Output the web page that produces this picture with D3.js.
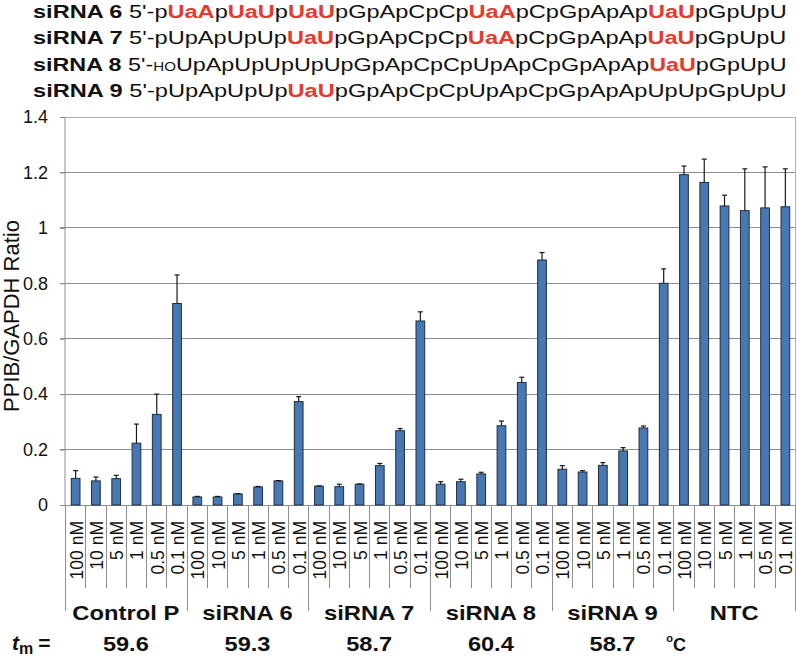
<!DOCTYPE html>
<html><head><meta charset="utf-8">
<script src="https://cdn.jsdelivr.net/npm/d3@7/dist/d3.min.js"></script>
<style>body{margin:0;background:#fff}svg{display:block}</style>
</head><body>
<svg id="c" width="797" height="658"></svg>
<script>
// ---------- data ----------
const groups = ["Control P","siRNA 6","siRNA 7","siRNA 8","siRNA 9","NTC"];
const concentrations = ["100 nM","10 nM","5 nM","1 nM","0.5 nM","0.1 nM"];
const meltingTemps = ["59.6","59.3","58.7","60.4","58.7",""];
const controlP = [0.096,0.087,0.095,0.223,0.327,0.727];
const sirna6   = [0.029,0.029,0.040,0.065,0.087,0.373];
const sirna7   = [0.068,0.066,0.075,0.142,0.268,0.664];
const sirna8   = [0.075,0.084,0.112,0.286,0.442,0.884];
const sirna9   = [0.129,0.119,0.143,0.195,0.278,0.800];
const ntc      = [1.192,1.164,1.079,1.062,1.072,1.076];
const controlPErr = [0.028,0.014,0.012,0.069,0.073,0.103];
const sirna6Err   = [0.002,0.002,0.001,0.002,0.001,0.018];
const sirna7Err   = [0.001,0.009,0.001,0.008,0.008,0.033];
const sirna8Err   = [0.009,0.009,0.006,0.017,0.019,0.027];
const sirna9Err   = [0.013,0.005,0.010,0.012,0.007,0.052];
const ntcErr      = [0.031,0.084,0.039,0.151,0.148,0.137];
const yTicks = [0,0.2,0.4,0.6,0.8,1,1.2,1.4];
const seqNames = ["siRNA 6","siRNA 7","siRNA 8","siRNA 9"];
// sequence segments: [text, style]  style: n=normal, r=red bold, s=small
const seqLines = [
  [["5'-p","n"],["UaA","r"],["p","n"],["UaU","r"],["p","n"],["UaU","r"],["pGpApCpCp","n"],["UaA","r"],["pCpGpApAp","n"],["UaU","r"],["pGpUpU","n"]],
  [["5'-pUpApUpUp","n"],["UaU","r"],["pGpApCpCp","n"],["UaA","r"],["pCpGpApAp","n"],["UaU","r"],["pGpUpU","n"]],
  [["5'-","n"],["HO","s"],["UpApUpUpUpUpGpApCpCpUpApCpGpApAp","n"],["UaU","r"],["pGpUpU","n"]],
  [["5'-pUpApUpUp","n"],["UaU","r"],["pGpApCpCpUpApCpGpApApUpUpGpUpU","n"]]
];

const valuesByGroup = [controlP,sirna6,sirna7,sirna8,sirna9,ntc];
const errByGroup = [controlPErr,sirna6Err,sirna7Err,sirna8Err,sirna9Err,ntcErr];
const rows = [];
groups.forEach((g,gi)=>concentrations.forEach((c,ci)=>rows.push({g,gi,c,ci,v:valuesByGroup[gi][ci],e:errByGroup[gi][ci],key:gi+"-"+ci})));

// ---------- layout ----------
const svg = d3.select("#c");
const L=65, R=795, T=117, B=505;
const FONT = "'Liberation Sans', Arial, sans-serif";
const x = d3.scaleBand().domain(rows.map(d=>d.key)).range([L,R]).paddingInner(0).paddingOuter(0);
const y = d3.scaleLinear().domain([0,1.4]).range([B,T]);
const bw = x.bandwidth();

// gridlines
svg.append("g").selectAll("line").data(yTicks).join("line")
  .attr("x1",L-5).attr("x2",R).attr("y1",d=>y(d)).attr("y2",d=>y(d))
  .attr("stroke",d=>d===1.4?"#b0b0b0":"#8e8e8e").attr("stroke-width",1).attr("shape-rendering","crispEdges");
// right border
svg.append("line").attr("x1",R).attr("x2",R).attr("y1",T).attr("y2",B)
  .attr("stroke","#b0b0b0").attr("shape-rendering","crispEdges");

// y axis
const yAxis = svg.append("g").attr("transform",`translate(${L},0)`)
  .call(d3.axisLeft(y).tickValues(yTicks).tickSize(5).tickPadding(12).tickFormat(d3.format("")));
yAxis.select(".domain").attr("stroke","#8e8e8e").attr("d",`M0,${T}V${B}`);
yAxis.selectAll(".tick line").attr("stroke","#8e8e8e");
yAxis.selectAll("text").attr("font-family",FONT).attr("font-size",18).attr("fill","#111");

svg.append("text").attr("transform",`translate(19,${(T+B)/2+5}) rotate(-90)`)
  .attr("text-anchor","middle").attr("font-family",FONT).attr("font-size",22).attr("fill","#111")
  .text("PPIB/GAPDH Ratio");

// bars
const barW = bw*0.43;
svg.append("g").selectAll("rect").data(rows).join("rect")
  .attr("x",d=>x(d.key)+bw/2-barW/2+0.5).attr("width",barW)
  .attr("y",d=>y(d.v)).attr("height",d=>y(0)-y(d.v))
  .attr("fill","#4878b2").attr("stroke","#1d2e45").attr("stroke-width",1);

// error bars (upper only)
const eg = svg.append("g").attr("stroke","#1a1a1a").attr("stroke-width",1.2);
eg.selectAll("line.v").data(rows).join("line").attr("class","v")
  .attr("x1",d=>x(d.key)+bw/2+0.5).attr("x2",d=>x(d.key)+bw/2+0.5)
  .attr("y1",d=>y(d.v)).attr("y2",d=>y(d.v+d.e));
eg.selectAll("line.c").data(rows).join("line").attr("class","c")
  .attr("x1",d=>x(d.key)+bw/2-2).attr("x2",d=>x(d.key)+bw/2+3)
  .attr("y1",d=>y(d.v+d.e)).attr("y2",d=>y(d.v+d.e));

// category tick lines
const bounds = d3.range(rows.length+1);
svg.append("g").selectAll("line").data(bounds).join("line")
  .attr("x1",i=>Math.round(L+i*bw)+0.5).attr("x2",i=>Math.round(L+i*bw)+0.5)
  .attr("y1",B).attr("y2",i=>i%6===0?611:588)
  .attr("stroke","#8e8e8e").attr("stroke-width",1);

// concentration labels
svg.append("g").selectAll("text").data(rows).join("text")
  .attr("transform",d=>`translate(${x(d.key)+bw/2+7.5},521) rotate(-90)`)
  .attr("text-anchor","end").attr("font-family",FONT).attr("font-size",17.5).attr("fill","#111")
  .text(d=>d.c);

// group labels
const gCenter = gi => L + (gi*6+3)*bw;
groups.forEach((g,gi)=>{
  svg.append("g").attr("transform",`translate(${gCenter(gi)},620) scale(1.22,1)`)
    .append("text").attr("text-anchor","middle").attr("font-family",FONT).attr("font-weight","bold")
    .attr("font-size",19.5).attr("fill","#111").text(g);
  if(meltingTemps[gi]) svg.append("g").attr("transform",`translate(${gCenter(gi)},651) scale(1.15,1)`)
    .append("text").attr("text-anchor","middle").attr("font-family",FONT).attr("font-weight","bold")
    .attr("font-size",20.5).attr("fill","#111").text(meltingTemps[gi]);
});
// t_m =
const tm = svg.append("text").attr("x",12).attr("y",650).attr("font-family",FONT).attr("font-weight","bold")
  .attr("font-size",21).attr("fill","#111");
tm.append("tspan").attr("font-style","italic").text("t");
tm.append("tspan").attr("font-size",16).attr("dy",4).text("m");
tm.append("tspan").attr("dy",-4).attr("dx",5).text("=");
// degree C
const dc = svg.append("text").attr("x",L+30*bw-7).attr("y",651).attr("font-family",FONT).attr("font-weight","bold")
  .attr("font-size",18).attr("fill","#111");
dc.append("tspan").attr("font-size",11).attr("dy",-9).text("o");
dc.append("tspan").attr("dy",9).text("C");

// sequence header
seqLines.forEach((segs,i)=>{
  const g = svg.append("g");
  const t = g.append("text").attr("x",0).attr("y",0).attr("font-family",FONT).attr("font-size",18.5).attr("fill","#111");
  t.append("tspan").attr("font-weight","bold").text(seqNames[i]+" ");
  segs.forEach(([s,st])=>{
    const sp = t.append("tspan").text(s);
    if(st==="r") sp.attr("font-weight","bold").attr("fill","#e53a2c");
    if(st==="s") sp.attr("font-size",12);
  });
  const w = t.node().getBBox().width;
  g.attr("transform",`translate(33,${17.5+i*26.6}) scale(${(787-33)/w},1)`);
});
</script>
</body></html>
